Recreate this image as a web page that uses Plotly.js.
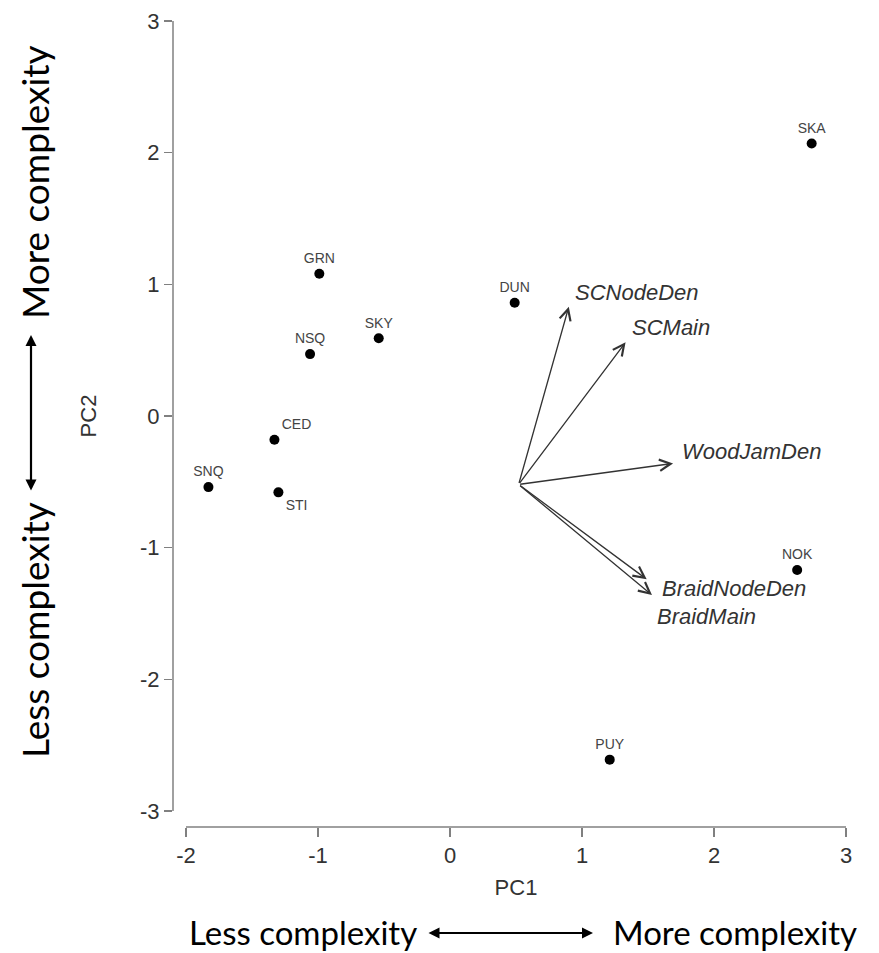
<!DOCTYPE html>
<html>
<head>
<meta charset="utf-8">
<script src="https://cdn.plot.ly/plotly-3.0.1.min.js"></script>
<style>html,body{margin:0;padding:0;background:#fff;}#chart{width:879px;height:953px;}</style>
</head>
<body>
<div id="chart"></div>
<script>
// ---- data ----
const sites = ['SKA','GRN','DUN','SKY','NSQ','CED','SNQ','STI','NOK','PUY'];
const pc1   = [2.74, -0.99, 0.49, -0.54, -1.06, -1.33, -1.83, -1.30, 2.63, 1.21];
const pc2   = [2.07,  1.08, 0.86,  0.59,  0.47, -0.18, -0.54, -0.58, -1.17, -2.61];

const loadingNames = ['SCNodeDen','SCMain','WoodJamDen','BraidNodeDen','BraidMain'];
const loadingOrigin = [0.52, -0.52];
const loadingTipX  = [0.90, 1.33, 1.69, 1.49, 1.53];
const loadingTipY  = [0.83, 0.56, -0.36, -1.24, -1.36];
const loadingLabelX = [0.93, 1.36, 1.74, 1.59, 1.55];
const loadingLabelY = [0.94, 0.67, -0.27, -1.31, -1.52];

const xTicks = [-2, -1, 0, 1, 2, 3];
const yTicks = [-3, -2, -1, 0, 1, 2, 3];

// ---- styling ----
const ARIAL = 'Arial, "Liberation Sans", sans-serif';
const labelPos = {CED: 'top right', STI: 'bottom right'};
const axisGrey = '#808080';
const tickFont = {family: ARIAL, size: 22, color: '#333'};
const outerFont = {family: 'Lato, sans-serif', size: 33, color: '#000'};
const outerFontL = {family: 'Lato, sans-serif', size: 37, color: '#000'};

const sitesTrace = {
  type: 'scatter', mode: 'markers+text',
  x: pc1, y: pc2, text: sites,
  textposition: sites.map(s => labelPos[s] || 'top center'),
  textfont: {family: ARIAL, size: 14, color: '#444'},
  marker: {color: '#000', size: 10},
  cliponaxis: false, hoverinfo: 'text'
};

const annotations = [];
loadingNames.forEach((n, i) => {
  annotations.push({
    x: loadingTipX[i], y: loadingTipY[i], xref: 'x', yref: 'y',
    ax: loadingOrigin[0], ay: loadingOrigin[1], axref: 'x', ayref: 'y',
    text: '', showarrow: true, arrowhead: 5, arrowsize: 1.7, arrowwidth: 1.3,
    arrowcolor: '#333'
  });
  annotations.push({
    x: loadingLabelX[i], y: loadingLabelY[i], xref: 'x', yref: 'y',
    text: n, showarrow: false, xanchor: 'left', yanchor: 'middle',
    font: {family: ARIAL, size: 22, color: '#333', style: 'italic'}
  });
});

// plot area: x 173..859 px, y 5..827 px
const px = v => (v - 173) / 686;
const py = v => (827 - v) / 822;

// outer complexity guides
annotations.push(
  {xref: 'paper', yref: 'paper', x: px(419), y: py(932), text: 'Less complexity',
   showarrow: false, xanchor: 'right', yanchor: 'middle', font: outerFont},
  {xref: 'paper', yref: 'paper', x: px(611), y: py(932), text: 'More complexity',
   showarrow: false, xanchor: 'left', yanchor: 'middle', font: outerFont},
  {xref: 'paper', yref: 'paper', x: px(593), y: py(933), ax: -166, ay: 0, text: '',
   showarrow: true, arrowside: 'end+start', arrowhead: 2, startarrowhead: 2,
   arrowsize: 1, startarrowsize: 1, arrowwidth: 2.2, arrowcolor: '#000'},
  {xref: 'paper', yref: 'paper', x: px(34), y: py(182), text: 'More complexity', textangle: -90,
   showarrow: false, xanchor: 'center', yanchor: 'middle', font: outerFontL},
  {xref: 'paper', yref: 'paper', x: px(34), y: py(630), text: 'Less complexity', textangle: -90,
   showarrow: false, xanchor: 'center', yanchor: 'middle', font: outerFontL},
  {xref: 'paper', yref: 'paper', x: px(31), y: py(335), ax: 0, ay: 157, text: '',
   showarrow: true, arrowside: 'end+start', arrowhead: 2, startarrowhead: 2,
   arrowsize: 1, startarrowsize: 1, arrowwidth: 2.2, arrowcolor: '#000'}
);

const layout = {
  width: 879, height: 953,
  margin: {l: 173, r: 20, t: 5, b: 126},
  paper_bgcolor: '#fff', plot_bgcolor: '#fff',
  showlegend: false,
  font: {family: ARIAL},
  xaxis: {
    range: [-2.0985, 3.0985], tickvals: xTicks, ticktext: xTicks.map(String),
    showgrid: false, zeroline: false, showline: false,
    ticks: 'outside', ticklen: 9, tickwidth: 1.5, tickcolor: axisGrey,
    tickfont: tickFont,
    title: {text: 'PC1', font: {family: ARIAL, size: 22, color: '#333'}, standoff: 12},
    automargin: false
  },
  yaxis: {
    range: [-3.1215, 3.1215], tickvals: yTicks, ticktext: yTicks.map(String),
    showgrid: false, zeroline: false, showline: false,
    ticks: 'outside', ticklen: 8, tickwidth: 1.5, tickcolor: axisGrey,
    tickfont: tickFont,
    title: {text: 'PC2', font: {family: ARIAL, size: 22, color: '#333'}, standoff: 37},
    automargin: false
  },
  shapes: [
    {type: 'line', xref: 'x', yref: 'paper', x0: xTicks[0], x1: xTicks[xTicks.length-1], y0: 0, y1: 0,
     line: {color: axisGrey, width: 1.5}},
    {type: 'line', xref: 'paper', yref: 'y', x0: 0, x1: 0, y0: yTicks[0], y1: yTicks[yTicks.length-1],
     line: {color: axisGrey, width: 1.5}}
  ],
  annotations: annotations
};

Plotly.newPlot('chart', [sitesTrace], layout, {displayModeBar: false, staticPlot: true});
</script>
</body>
</html>
